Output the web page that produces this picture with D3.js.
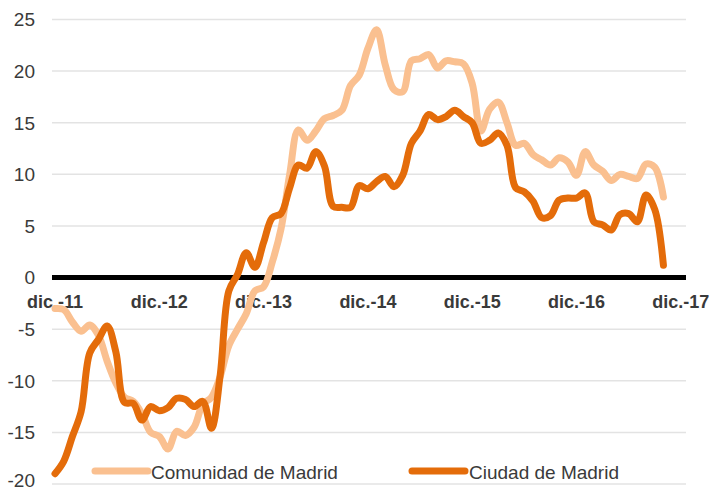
<!DOCTYPE html>
<html>
<head>
<meta charset="utf-8">
<script src="https://cdn.jsdelivr.net/npm/d3@7"></script>
<style>
  html, body { margin: 0; padding: 0; background: #fff; }
  svg { display: block; }
</style>
</head>
<body>
<svg id="chart" width="713" height="493"></svg>
<script>
// Year markers on the x axis (December of each year)
const yearLabels = ["dic.-11", "dic.-12", "dic.-13", "dic.-14", "dic.-15", "dic.-16", "dic.-17"];
const yTicks = [-20, -15, -10, -5, 0, 5, 10, 15, 20, 25];
const seriesNames = ["Comunidad de Madrid", "Ciudad de Madrid"];

// Monthly values, Dec 2011 to Oct 2017
const comunidad = [
  -3.0, -3.1, -4.3, -5.2, -4.6, -5.6, -8.1, -10.2, -11.6, -12.0, -13.2, -15.0,
  -15.4, -16.6, -14.9, -15.3, -14.5, -12.3, -11.6, -9.6, -6.6, -5.0, -3.5, -1.3,
  -0.9, 1.5, 4.7, 10.0, 14.3, 13.3, 14.2, 15.4, 15.7, 16.2, 18.6, 19.6,
  22.2, 24.0, 20.6, 18.2, 18.0, 21.0, 21.2, 21.6, 20.3, 21.0, 20.9, 20.7,
  18.8, 14.2, 16.3, 17.0, 15.0, 12.8, 13.0, 11.9, 11.4, 10.9, 11.6, 11.2,
  9.9, 12.2, 10.9, 10.3, 9.4, 10.0, 9.8, 9.6, 11.0, 10.7, 7.8
];
const ciudad = [
  -19.0, -17.8, -15.4, -13.0, -7.3, -6.0, -4.7, -7.2, -12.1, -12.2, -13.8, -12.5,
  -12.9, -12.6, -11.7, -11.8, -12.5, -12.0, -14.6, -9.5, -1.3, 0.3, 2.4, 1.0,
  3.4, 5.8, 6.2, 8.7, 10.9, 10.6, 12.2, 10.8, 6.9, 6.8, 6.8, 8.9,
  8.6, 9.3, 9.8, 8.8, 9.9, 13.0, 14.2, 15.8, 15.3, 15.6, 16.2, 15.6,
  15.0, 13.0, 13.3, 14.0, 12.8, 8.7, 8.3, 7.4, 5.8, 6.0, 7.5, 7.7,
  7.7, 8.2, 5.4, 5.1, 4.6, 6.1, 6.2, 5.4, 8.0, 6.6, 1.2
];

const colors = ["#FAC090", "#E46C0A"];

const svg = d3.select("#chart");
const plotLeft = 52, plotRight = 686;
const fontFamily = "Liberation Sans, Arial, Helvetica, sans-serif";
const textColor = "#3a3a3a";

// x: month index since Dec 2011; y: percentage
const x = d3.scaleLinear().domain([0, 72]).range([55, 680.8]);
const y = d3.scaleLinear().domain([-20, 25]).range([484, 19.5]);

// Horizontal gridlines
svg.append("g")
  .selectAll("line")
  .data(yTicks.filter(t => t !== 0))
  .join("line")
  .attr("x1", plotLeft).attr("x2", plotRight)
  .attr("y1", d => y(d)).attr("y2", d => y(d))
  .attr("stroke", "#e3e3e3")
  .attr("stroke-width", 1.5);

// Y axis labels (the lowest one is nudged up to stay inside the frame)
svg.append("g")
  .selectAll("text")
  .data(yTicks)
  .join("text")
  .attr("x", 35)
  .attr("y", d => Math.min(y(d), 480))
  .attr("dy", "0.36em")
  .attr("text-anchor", "end")
  .attr("font-family", fontFamily)
  .attr("font-size", 19)
  .attr("fill", textColor)
  .text(d => d);

// Zero baseline
svg.append("line")
  .attr("x1", plotLeft).attr("x2", plotRight)
  .attr("y1", y(0)).attr("y2", y(0))
  .attr("stroke", "#000")
  .attr("stroke-width", 5);

// Year labels below the baseline
svg.append("g")
  .selectAll("text")
  .data(yearLabels)
  .join("text")
  .attr("x", (d, i) => x(i * 12))
  .attr("y", 302)
  .attr("dy", "0.36em")
  .attr("text-anchor", "middle")
  .attr("font-family", fontFamily)
  .attr("font-weight", "bold")
  .attr("font-size", 18)
  .attr("fill", textColor)
  .text(d => d);

const line = d3.line()
  .x((d, i) => x(i))
  .y(d => y(d))
  .curve(d3.curveCatmullRom.alpha(0.5));

[comunidad, ciudad].forEach((vals, k) => {
  svg.append("path")
    .datum(vals)
    .attr("d", line)
    .attr("fill", "none")
    .attr("stroke", colors[k])
    .attr("stroke-width", 7)
    .attr("stroke-linecap", "round")
    .attr("stroke-linejoin", "round");
});

// Legend
const legendPos = [{x: 95, tx: 151}, {x: 412, tx: 469}];
const lg = svg.append("g");
seriesNames.forEach((name, k) => {
  const p = legendPos[k];
  lg.append("line")
    .attr("x1", p.x).attr("x2", p.x + 53)
    .attr("y1", 471).attr("y2", 471)
    .attr("stroke", colors[k])
    .attr("stroke-width", 7)
    .attr("stroke-linecap", "round");
  lg.append("text")
    .attr("x", p.tx)
    .attr("y", 472)
    .attr("dy", "0.36em")
    .attr("font-family", fontFamily)
    .attr("font-size", 19)
    .attr("fill", textColor)
    .text(name);
});
</script>
</body>
</html>
